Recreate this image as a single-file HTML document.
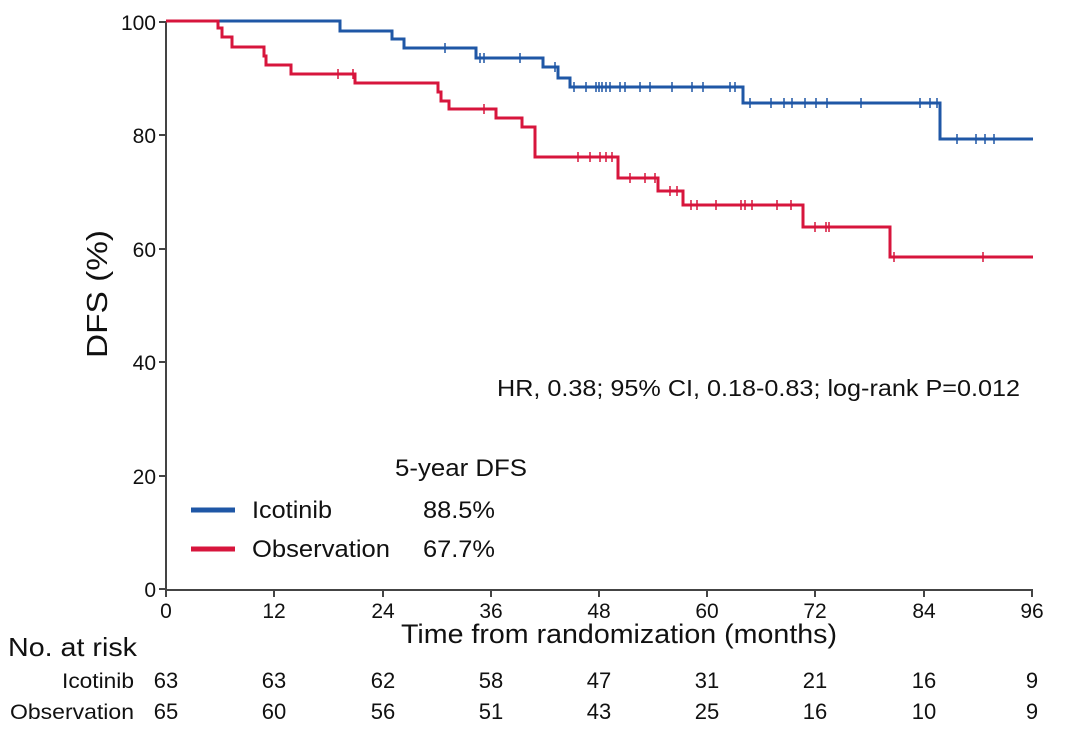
<!DOCTYPE html>
<html><head><style>body{margin:0;background:#fff}svg{display:block}text{font-family:"Liberation Sans",sans-serif;fill:#111}</style></head>
<body>
<svg width="1080" height="742" viewBox="0 0 1080 742">
<g stroke="#444" stroke-width="2" fill="none">
<line x1="166" y1="21" x2="166" y2="590"/>
<line x1="165" y1="590" x2="1033" y2="590"/>
<line x1="159" y1="22" x2="166" y2="22"/><line x1="159" y1="135" x2="166" y2="135"/><line x1="159" y1="249" x2="166" y2="249"/><line x1="159" y1="362" x2="166" y2="362"/><line x1="159" y1="476" x2="166" y2="476"/><line x1="159" y1="589" x2="166" y2="589"/>
<line x1="166" y1="590" x2="166" y2="597"/><line x1="274" y1="590" x2="274" y2="597"/><line x1="383" y1="590" x2="383" y2="597"/><line x1="491" y1="590" x2="491" y2="597"/><line x1="599" y1="590" x2="599" y2="597"/><line x1="707" y1="590" x2="707" y2="597"/><line x1="815" y1="590" x2="815" y2="597"/><line x1="924" y1="590" x2="924" y2="597"/><line x1="1032" y1="590" x2="1032" y2="597"/>
</g>
<g font-size="21" text-anchor="end"><text x="156" y="30">100</text><text x="156" y="143">80</text><text x="156" y="257">60</text><text x="156" y="370">40</text><text x="156" y="484">20</text><text x="156" y="597">0</text></g>
<g font-size="21" text-anchor="middle"><text x="166" y="618">0</text><text x="274" y="618">12</text><text x="383" y="618">24</text><text x="491" y="618">36</text><text x="599" y="618">48</text><text x="707" y="618">60</text><text x="815" y="618">72</text><text x="924" y="618">84</text><text x="1032" y="618">96</text></g>
<text x="0" y="0" font-size="29" text-anchor="middle" textLength="128" lengthAdjust="spacingAndGlyphs" transform="translate(107,294) rotate(-90)">DFS (%)</text>
<text x="401" y="643" font-size="27" textLength="436" lengthAdjust="spacingAndGlyphs">Time from randomization (months)</text>
<path fill="none" stroke="#1f57a6" stroke-width="3" d="M166 21H340V31H392V39H404V48H476V58H543V67H558V78H570V87H743V103H940V139H1033"/>
<path fill="none" stroke="#d7153c" stroke-width="3" d="M166 21H218V28H222V37H232V47H264V56H266V65H291V74H355V83H438V92H441V101H449V109H496V118H522V127H535V157H618V178H658V191H683V205H803V227H890V257H1033"/>
<g stroke="#1f57a6" stroke-width="1.5">
<path d="M445 43v10M480 53v10M484 53v10M520 53v10M555 62v10M574 82v10M586 82v10M596 82v10M599 82v10M602 82v10M606 82v10M610 82v10M620 82v10M625 82v10M640 82v10M650 82v10M672 82v10M692 82v10M703 82v10M730 82v10M735 82v10M750 98v10M771 98v10M784 98v10M792 98v10M805 98v10M816 98v10M827 98v10M861 98v10M920 98v10M930 98v10M937 98v10M957 134v10M976 134v10M985 134v10M994 134v10"/>
</g>
<g stroke="#d7153c" stroke-width="1.5">
<path d="M338 69v10M353 69v10M484 104v10M578 152v10M590 152v10M600 152v10M606 152v10M612 152v10M630 173v10M645 173v10M655 173v10M670 186v10M677 186v10M691 200v10M697 200v10M716 200v10M741 200v10M745 200v10M752 200v10M777 200v10M791 200v10M815 222v10M826 222v10M829 222v10M894 252v10M983 252v10"/>
</g>
<text x="497" y="396" font-size="23.5" textLength="523" lengthAdjust="spacingAndGlyphs">HR, 0.38; 95% CI, 0.18-0.83; log-rank P=0.012</text>
<text x="395" y="476" font-size="24" textLength="132" lengthAdjust="spacingAndGlyphs">5-year DFS</text>
<line x1="191" y1="510" x2="235" y2="510" stroke="#1f57a6" stroke-width="5"/>
<line x1="191" y1="549" x2="235" y2="549" stroke="#d7153c" stroke-width="5"/>
<text x="252" y="518" font-size="24.5" textLength="80" lengthAdjust="spacingAndGlyphs">Icotinib</text><text x="423" y="518" font-size="24.5" textLength="72" lengthAdjust="spacingAndGlyphs">88.5%</text>
<text x="252" y="557" font-size="24.5" textLength="138" lengthAdjust="spacingAndGlyphs">Observation</text><text x="423" y="557" font-size="24.5" textLength="72" lengthAdjust="spacingAndGlyphs">67.7%</text>
<text x="8" y="656" font-size="26" textLength="129" lengthAdjust="spacingAndGlyphs">No. at risk</text>
<text x="62" y="688" font-size="21" textLength="72" lengthAdjust="spacingAndGlyphs">Icotinib</text>
<text x="10" y="719" font-size="21" textLength="124" lengthAdjust="spacingAndGlyphs">Observation</text>
<g font-size="22" text-anchor="middle">
<text x="166" y="688">63</text><text x="274" y="688">63</text><text x="383" y="688">62</text><text x="491" y="688">58</text><text x="599" y="688">47</text><text x="707" y="688">31</text><text x="815" y="688">21</text><text x="924" y="688">16</text><text x="1032" y="688">9</text>
<text x="166" y="719">65</text><text x="274" y="719">60</text><text x="383" y="719">56</text><text x="491" y="719">51</text><text x="599" y="719">43</text><text x="707" y="719">25</text><text x="815" y="719">16</text><text x="924" y="719">10</text><text x="1032" y="719">9</text>
</g>
</svg>
</body></html>
